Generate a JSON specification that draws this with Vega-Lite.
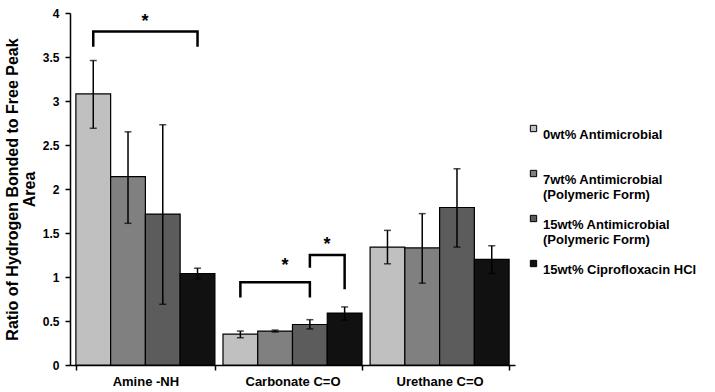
{
  "$schema": "https://vega.github.io/schema/vega-lite/v6.json",
  "width": 445,
  "height": 352,
  "autosize": "none",
  "padding": {"left": 70, "top": 13, "right": 200, "bottom": 27},
  "background": "white",
  "config": {
    "view": {"stroke": null},
    "font": "Liberation Sans",
    "axis": {"domainColor": "black", "tickColor": "black", "labelColor": "black", "titleColor": "black", "labelFont": "Liberation Sans", "titleFont": "Liberation Sans", "labelFontWeight": "bold", "labelFontSize": 12, "grid": false, "domainWidth": 1.5, "tickWidth": 1.5}
  },
  "datasets": {
    "bars": [
      {"group": "Amine -NH", "series": "0wt% Antimicrobial", "value": 3.08, "lo": 2.69, "hi": 3.46},
      {"group": "Amine -NH", "series": "7wt% Antimicrobial (Polymeric Form)", "value": 2.14, "lo": 1.61, "hi": 2.65},
      {"group": "Amine -NH", "series": "15wt% Antimicrobial (Polymeric Form)", "value": 1.715, "lo": 0.69, "hi": 2.73},
      {"group": "Amine -NH", "series": "15wt% Ciprofloxacin HCl", "value": 1.04, "lo": 0.98, "hi": 1.10},
      {"group": "Carbonate C=O", "series": "0wt% Antimicrobial", "value": 0.35, "lo": 0.31, "hi": 0.386},
      {"group": "Carbonate C=O", "series": "7wt% Antimicrobial (Polymeric Form)", "value": 0.386, "lo": 0.375, "hi": 0.397},
      {"group": "Carbonate C=O", "series": "15wt% Antimicrobial (Polymeric Form)", "value": 0.46, "lo": 0.41, "hi": 0.515},
      {"group": "Carbonate C=O", "series": "15wt% Ciprofloxacin HCl", "value": 0.59, "lo": 0.51, "hi": 0.66},
      {"group": "Urethane C=O", "series": "0wt% Antimicrobial", "value": 1.34, "lo": 1.15, "hi": 1.53},
      {"group": "Urethane C=O", "series": "7wt% Antimicrobial (Polymeric Form)", "value": 1.33, "lo": 0.93, "hi": 1.72},
      {"group": "Urethane C=O", "series": "15wt% Antimicrobial (Polymeric Form)", "value": 1.79, "lo": 1.34, "hi": 2.23},
      {"group": "Urethane C=O", "series": "15wt% Ciprofloxacin HCl", "value": 1.20, "lo": 1.04, "hi": 1.355}
    ],
    "brackets": [
      {"id": "a", "ord": 1, "group": "Amine -NH", "series": "0wt% Antimicrobial", "y": 3.63},
      {"id": "a", "ord": 2, "group": "Amine -NH", "series": "0wt% Antimicrobial", "y": 3.79},
      {"id": "a", "ord": 3, "group": "Amine -NH", "series": "15wt% Ciprofloxacin HCl", "y": 3.79},
      {"id": "a", "ord": 4, "group": "Amine -NH", "series": "15wt% Ciprofloxacin HCl", "y": 3.63},
      {"id": "b", "ord": 1, "group": "Carbonate C=O", "series": "0wt% Antimicrobial", "y": 0.78},
      {"id": "b", "ord": 2, "group": "Carbonate C=O", "series": "0wt% Antimicrobial", "y": 0.94},
      {"id": "b", "ord": 3, "group": "Carbonate C=O", "series": "15wt% Antimicrobial (Polymeric Form)", "y": 0.94},
      {"id": "b", "ord": 4, "group": "Carbonate C=O", "series": "15wt% Antimicrobial (Polymeric Form)", "y": 0.78},
      {"id": "c", "ord": 1, "group": "Carbonate C=O", "series": "15wt% Antimicrobial (Polymeric Form)", "y": 1.12},
      {"id": "c", "ord": 2, "group": "Carbonate C=O", "series": "15wt% Antimicrobial (Polymeric Form)", "y": 1.25},
      {"id": "c", "ord": 3, "group": "Carbonate C=O", "series": "15wt% Ciprofloxacin HCl", "y": 1.25},
      {"id": "c", "ord": 4, "group": "Carbonate C=O", "series": "15wt% Ciprofloxacin HCl", "y": 0.875}
    ],
    "stars": [
      {"id": "a", "group": "Amine -NH", "series": "7wt% Antimicrobial (Polymeric Form)", "y": 3.9, "t": "*"},
      {"id": "b", "group": "Carbonate C=O", "series": "7wt% Antimicrobial (Polymeric Form)", "y": 1.12, "t": "*"},
      {"id": "c", "group": "Carbonate C=O", "series": "15wt% Antimicrobial (Polymeric Form)", "y": 1.36, "t": "*"}
    ]
  },
  "encoding": {
    "x": {"field": "group", "type": "nominal", "scale": {"paddingInner": 0.055, "paddingOuter": 0.04}, "axis": {"title": null, "labelAngle": 0, "tickBand": "extent", "tickSize": 5, "labelPadding": 5, "labelFontSize": 13}},
    "xOffset": {"field": "series", "type": "nominal", "sort": ["0wt% Antimicrobial", "7wt% Antimicrobial (Polymeric Form)", "15wt% Antimicrobial (Polymeric Form)", "15wt% Ciprofloxacin HCl"], "scale": {"paddingInner": 0, "paddingOuter": 0}}
  },
  "layer": [
    {
      "data": {"name": "bars"},
      "mark": {"type": "bar", "stroke": "black", "strokeWidth": 1.2},
      "encoding": {
        "y": {"field": "value", "type": "quantitative", "scale": {"domain": [0, 4]}, "axis": {"values": [0, 0.5, 1, 1.5, 2, 2.5, 3, 3.5, 4], "format": ".1~f", "tickSize": 5, "labelPadding": 6, "title": ["Ratio of Hydrogen Bonded to Free Peak", "Area"], "titleFontSize": 16, "titleFontWeight": "bold", "titlePadding": 5, "titleLineHeight": 17}},
        "fill": {"field": "series", "type": "nominal", "sort": ["0wt% Antimicrobial", "7wt% Antimicrobial (Polymeric Form)", "15wt% Antimicrobial (Polymeric Form)", "15wt% Ciprofloxacin HCl"], "scale": {"range": ["#c0c0c0", "#808080", "#5c5c5c", "#111111"]},
          "legend": {"title": null, "orient": "none", "legendX": 457, "legendY": 109, "gridAlign": "all", "symbolType": "square", "symbolSize": 40, "symbolStrokeColor": "black", "symbolStrokeWidth": 1, "labelFontSize": 13, "labelFontWeight": "bold", "labelColor": "black", "labelFont": "Liberation Sans", "rowPadding": 10, "labelBaseline": "top", "labelOffset": 3, "labelLineHeight": 14,
            "labelExpr": "datum.label == '7wt% Antimicrobial (Polymeric Form)' ? ['7wt% Antimicrobial', '(Polymeric Form)'] : datum.label == '15wt% Antimicrobial (Polymeric Form)' ? ['15wt% Antimicrobial', '(Polymeric Form)'] : datum.label", "labelLimit": 300}}
      }
    },
    {
      "data": {"name": "bars"},
      "mark": {"type": "rule", "color": "black", "strokeWidth": 1.5},
      "encoding": {"y": {"field": "lo", "type": "quantitative"}, "y2": {"field": "hi"}}
    },
    {
      "data": {"name": "bars"},
      "mark": {"type": "tick", "color": "black", "orient": "horizontal", "size": 7, "thickness": 1.5},
      "encoding": {"y": {"field": "lo", "type": "quantitative"}}
    },
    {
      "data": {"name": "bars"},
      "mark": {"type": "tick", "color": "black", "orient": "horizontal", "size": 7, "thickness": 1.5},
      "encoding": {"y": {"field": "hi", "type": "quantitative"}}
    },
    {
      "data": {"name": "brackets"},
      "mark": {"type": "line", "color": "black", "strokeWidth": 2.5, "strokeCap": "square"},
      "encoding": {"y": {"field": "y", "type": "quantitative"}, "detail": {"field": "id"}, "order": {"field": "ord"}}
    },
    {
      "data": {"name": "stars"},
      "transform": [{"filter": "datum.id != 'b'"}],
      "mark": {"type": "text", "fontSize": 18, "fontWeight": "bold", "dx": 17, "baseline": "middle", "color": "black"},
      "encoding": {"y": {"field": "y", "type": "quantitative"}, "text": {"field": "t"}}
    },
    {
      "data": {"name": "stars"},
      "transform": [{"filter": "datum.id == 'b'"}],
      "mark": {"type": "text", "fontSize": 18, "fontWeight": "bold", "dx": 10, "baseline": "middle", "color": "black"},
      "encoding": {"y": {"field": "y", "type": "quantitative"}, "text": {"field": "t"}}
    }
  ]
}
